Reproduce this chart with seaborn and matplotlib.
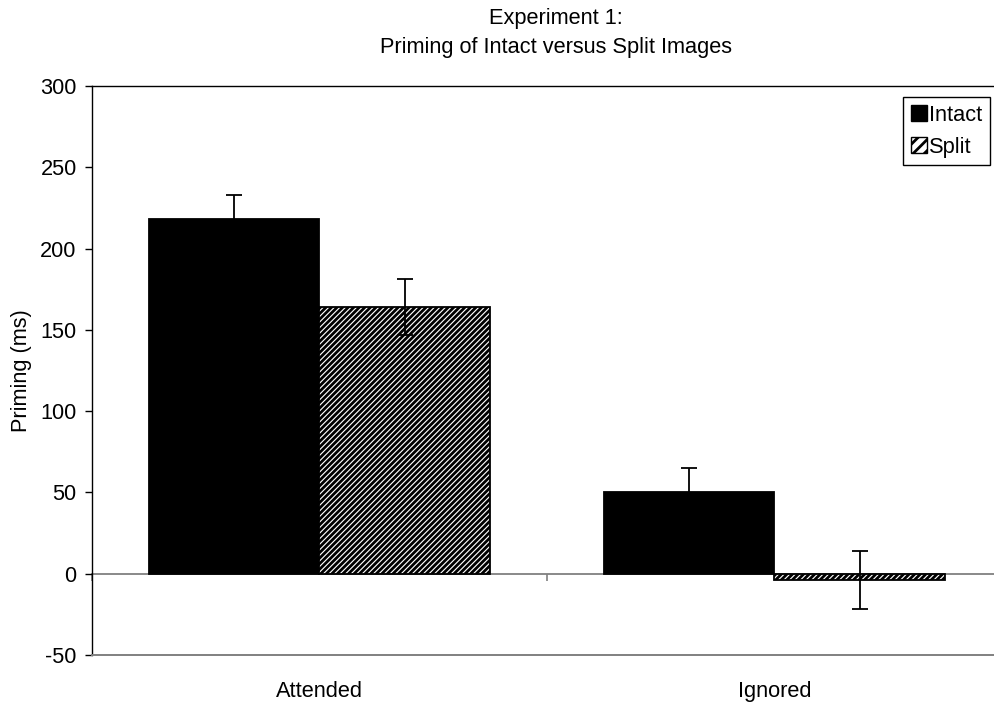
import matplotlib
matplotlib.use("Agg")
import matplotlib.pyplot as plt
from matplotlib.patches import Patch
import seaborn as sns
import pandas as pd

# ---------- DATA ----------
conditions = ["Attended", "Ignored"]
image_types = ["Intact", "Split"]
intact_priming = [218, 50]
split_priming = [164, -4]
intact_err = [15, 15]
split_err = [17, 18]
y_ticks = [-50, 0, 50, 100, 150, 200, 250, 300]

df = pd.DataFrame({
    "condition": conditions * 2,
    "type": ["Intact"] * 2 + ["Split"] * 2,
    "priming": intact_priming + split_priming,
    "err": intact_err + split_err,
})

# ---------- STYLE ----------
sns.set_style("white")
plt.rcParams["font.family"] = ["Liberation Sans", "DejaVu Sans"]
plt.rcParams["text.color"] = "black"
plt.rcParams["axes.labelcolor"] = "black"
plt.rcParams["xtick.color"] = "black"
plt.rcParams["ytick.color"] = "black"
plt.rcParams["axes.unicode_minus"] = False
plt.rcParams["hatch.linewidth"] = 2.0

FS = 15.7
HATCH = "//////"

fig = plt.figure(figsize=(9.95, 7.08), dpi=100)
ax = fig.add_axes([92 / 995, 1 - 655 / 708, 910 / 995, 569 / 708])

sns.barplot(
    data=df, x="condition", y="priming", hue="type",
    order=conditions, hue_order=image_types,
    palette={"Intact": "black", "Split": "white"},
    edgecolor="black", linewidth=1.3, width=0.75,
    errorbar=None, legend=False, ax=ax,
)

# hatch the split bars
for p in ax.containers[1]:
    p.set_hatch(HATCH)

# error bars on top of each bar
for cont, kind in zip(ax.containers, image_types):
    sub = df[df["type"] == kind]
    xs = [p.get_x() + p.get_width() / 2 for p in cont]
    ax.errorbar(xs, sub["priming"], yerr=sub["err"], fmt="none",
                ecolor="black", elinewidth=1.3, capsize=5.5, capthick=1.3,
                zorder=5)

# ---------- AXES ----------
ax.set_xlim(-0.5, 1.5)
ax.set_ylim(-50, 300)
ax.set_yticks(y_ticks)
ax.tick_params(axis="y", labelsize=FS, length=5, width=1, pad=6, direction="out", left=True)
ax.tick_params(axis="x", labelsize=FS, length=0, pad=19)
ax.set_xlabel("")
ax.set_ylabel("Priming (ms)", fontsize=FS)
ax.yaxis.set_label_coords(-0.066, 0.5)

for s in ["top", "left"]:
    ax.spines[s].set_color("black")
    ax.spines[s].set_linewidth(1.0)
ax.spines["bottom"].set_color("#808080")
ax.spines["bottom"].set_linewidth(1.4)
ax.spines["right"].set_visible(False)

# category axis at zero with boundary tick marks
sec = ax.secondary_xaxis(0, transform=ax.transData)
sec.set_xticks([-0.5, 0.5, 1.5], labels=["", "", ""])
sec.tick_params(axis="x", direction="out", length=5, width=1.2, color="#808080")
sec.spines["bottom"].set_color("#808080")
sec.spines["bottom"].set_linewidth(1.3)

# ---------- TITLE & LEGEND ----------
fig.text(556 / 995, 1 - 33 / 708, "Experiment 1:\nPriming of Intact versus Split Images",
         ha="center", va="center", fontsize=FS, linespacing=1.5)

handles = [Patch(facecolor="black", edgecolor="black"),
           Patch(facecolor="white", edgecolor="black", hatch="///")]
leg = ax.legend(handles, image_types, loc="upper right",
                bbox_to_anchor=(990 / 995, 1 - 97 / 708), bbox_transform=fig.transFigure,
                fontsize=FS, frameon=True, fancybox=False, framealpha=1,
                handlelength=0.75, handleheight=0.75, handletextpad=0.1,
                borderpad=0.35, labelspacing=0.5, borderaxespad=0)
leg.get_frame().set_edgecolor("black")
leg.get_frame().set_linewidth(1.0)

plt.savefig("out.png", dpi=100)
plt.close()
